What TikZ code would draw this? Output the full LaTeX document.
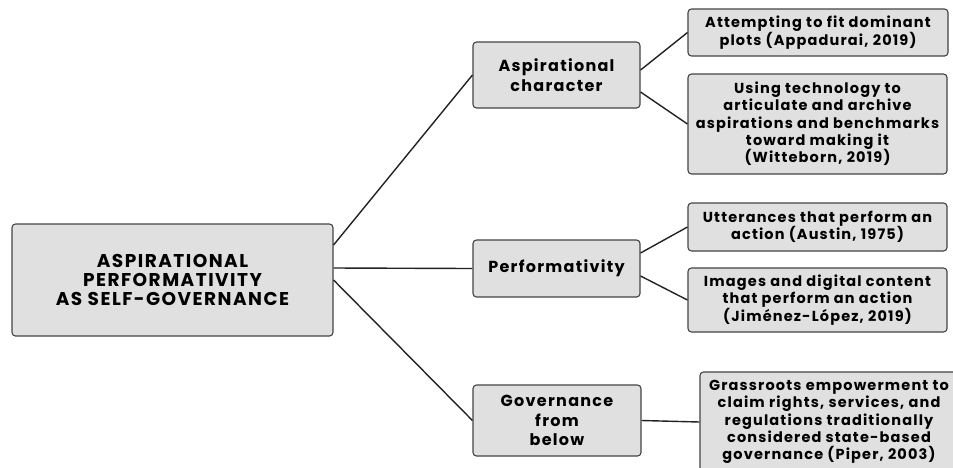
\documentclass[tikz,border=0pt]{standalone}
\usepackage{fontspec}
\setmainfont{Poppins}[BoldFont={Poppins Bold}, BoldFeatures={LetterSpace=8}]
\definecolor{boxfill}{HTML}{E0E0E0}
\definecolor{boxline}{HTML}{444444}
\definecolor{linkcol}{HTML}{222222}
\begin{document}
\begin{tikzpicture}[x=1pt,y=-1pt,
  box/.style={draw=boxline, fill=boxfill, line width=1.1pt, rounded corners=3.5pt,
    align=center, inner sep=0pt, text=black, font=\bfseries\fontsize{14.5}{17.3}\selectfont},
  midbox/.style={box, font=\bfseries\fontsize{16}{19.8}\selectfont},
  link/.style={draw=linkcol, line width=1.4pt}]
\useasboundingbox (0,0) rectangle (953,467);
\node[box, minimum width=321, minimum height=112, font=\bfseries\fontsize{18.5}{18.7}\selectfont] (main) at (172.5,280) {ASPIRATIONAL\\PERFORMATIVITY\\AS SELF-GOVERNANCE};
\node[midbox, minimum width=167, minimum height=66] (asp) at (556.5,75) {Aspirational\\character};
\node[midbox, minimum width=167, minimum height=57] (perf) at (556.5,268.5) {Performativity};
\node[midbox, minimum width=168, minimum height=71] (gov) at (557,420.5) {Governance\\from\\below};
\node[box, minimum width=260, minimum height=47] (b1) at (818,32.5) {Attempting to fit dominant\\plots (Appadurai, 2019)};
\node[box, minimum width=259, minimum height=100] (b2) at (817.5,124) {Using technology to\\articulate and archive\\aspirations and benchmarks\\toward making it\\(Witteborn, 2019)};
\node[box, minimum width=259, minimum height=48] (b3) at (817.5,227) {Utterances that perform an\\action (Austin, 1975)};
\node[box, minimum width=259, minimum height=64] (b4) at (817.5,300) {Images and digital content\\that perform an action\\(Jiménez-López, 2019)};
\begin{scope}
\clip (0,0) rectangle (953,467);
\node[box, minimum width=258, minimum height=100] (b5) at (829,422) {Grassroots empowerment to\\claim rights, services, and\\regulations traditionally\\considered state-based\\governance (Piper, 2003)};
\end{scope}
\draw[link] ([yshift=35]main.east) -- (asp.west);
\draw[link] ([yshift=12]main.east) -- (perf.west);
\draw[link] (main.east) -- (gov.west);
\draw[link] ([yshift=5]asp.east) -- (b1.west);
\draw[link] ([yshift=-17]asp.east) -- (b2.west);
\draw[link] ([yshift=15.5]perf.east) -- (b3.west);
\draw[link] ([yshift=-7.5]perf.east) -- (b4.west);
\draw[link] (gov.east) -- (b5.west);
\end{tikzpicture}
\end{document}
